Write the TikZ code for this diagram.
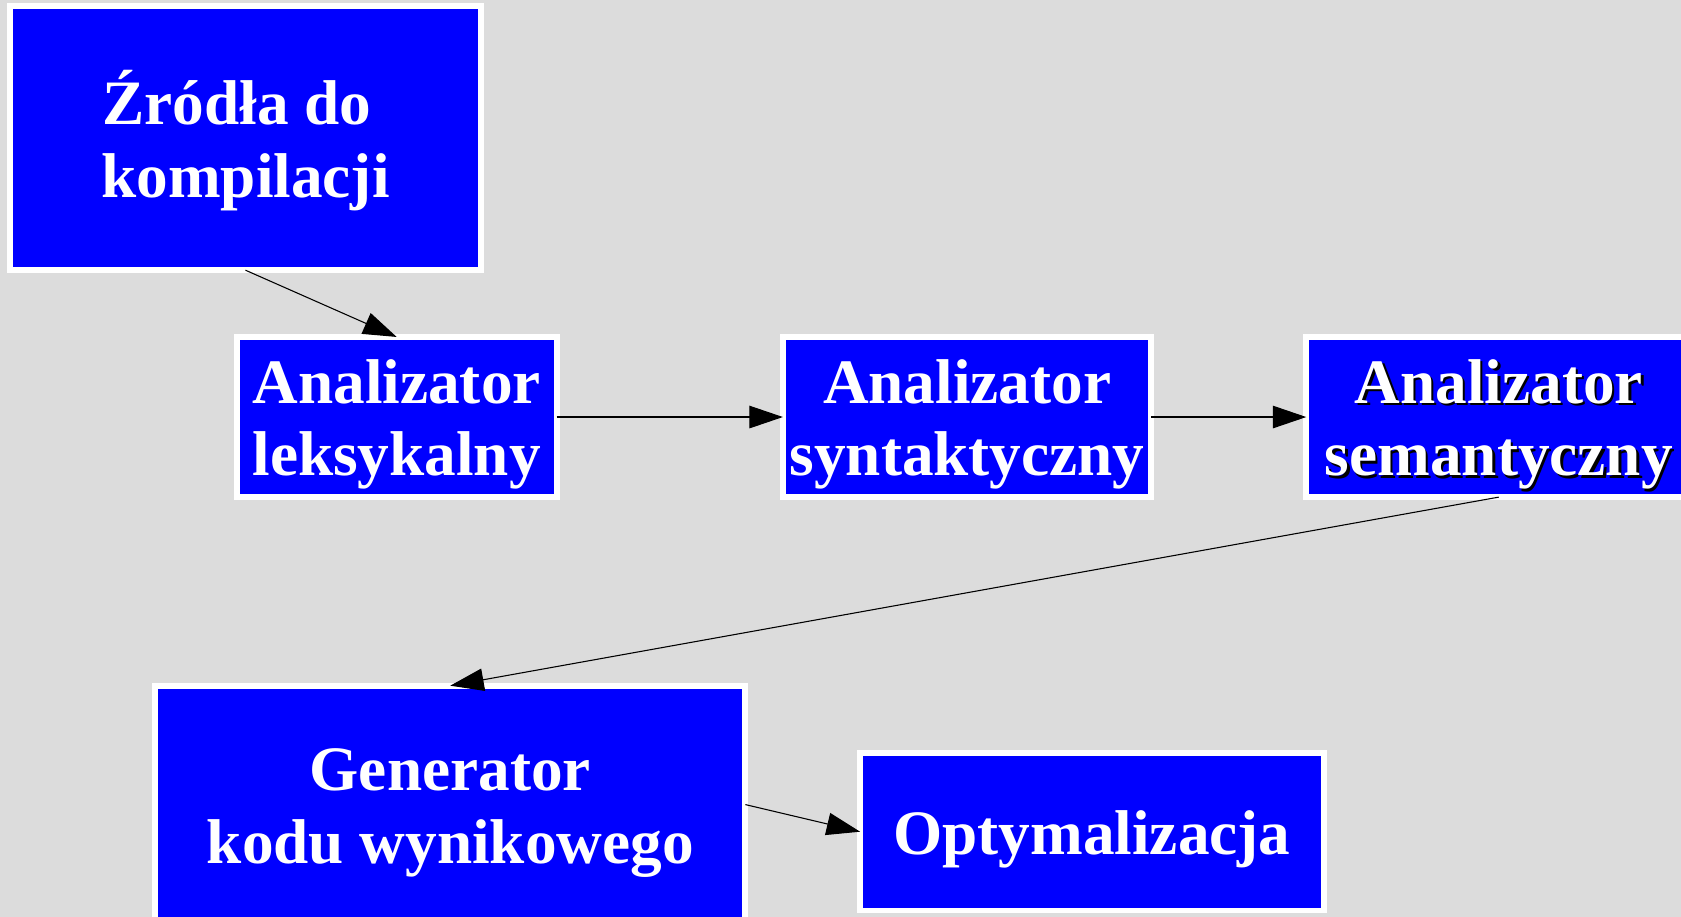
\documentclass[tikz,border=0pt]{standalone}
\usepackage{fontspec}
\setmainfont{Liberation Serif}
\usetikzlibrary{arrows.meta}

\definecolor{canvas}{RGB}{220,220,220}
\definecolor{boxblue}{RGB}{0,0,255}

% struts fixing the top of the first line and the bottom of the last line
\newcommand\tstr{\rule{0pt}{28.5pt}}
\newcommand\bstr{\rule[-7.5pt]{0pt}{7.5pt}}
% white text with a black drop shadow
\newcommand\shdw[1]{\leavevmode\rlap{\kern1.1pt\raisebox{-1.1pt}{\color{black}#1}}#1}

\tikzset{
  stage/.style={rectangle, draw=white, line width=2.75pt, fill=boxblue,
    text=white, inner sep=0pt, outer sep=0pt, align=center,
    font=\bfseries\fontsize{29.5pt}{34pt}\selectfont},
  dims/.style 2 args={minimum width=#1*0.5pt, minimum height=#2*0.5pt},
  flow/.style={draw=black, line width=0.5pt,
    -{Triangle[length=15.6pt, width=10.5pt]}}
}

\begin{document}
\begin{tikzpicture}[x=0.5pt, y=-0.5pt]
  \useasboundingbox (0,0) rectangle (1568,855);
  \fill[canvas] (0,0) rectangle (1568,855);
  \clip (0,0) rectangle (1568,855);

  \node[stage, dims={439.5}{246.5}] (src) at (229,128.8)
    {\tstr Źródła do\kern7.8pt\\kompilacji\bstr};
  \node[stage, dims={298.3}{149.4}] (lex) at (370,389)
    {\tstr Analizator\\leksykalny\bstr};
  \node[stage, dims={343.7}{149.4}] (syn) at (902.1,389)
    {\tstr Analizator\\syntaktyczny\bstr};
  \node[stage, dims={359.1}{149.4}] (sem) at (1398,389)
    {\tstr\shdw{Analizator}\\\shdw{semantyczny}\bstr};
  \node[stage, dims={550.5}{221.8}] (gen) at (420,750.5)
    {\tstr Generator\\kodu wynikowego\bstr};
  \node[stage, dims={432.4}{146.9}] (opt) at (1018.5,775.8)
    {\tstr Optymalizacja\bstr};

  \draw[flow] (src.south) -- (lex.north);
  \draw[flow] (lex.east) -- (syn.west);
  \draw[flow] (syn.east) -- (sem.west);
  \draw[flow] (sem.south) -- (gen.north);
  \draw[flow] (gen.east) -- (opt.west);
\end{tikzpicture}
\end{document}
